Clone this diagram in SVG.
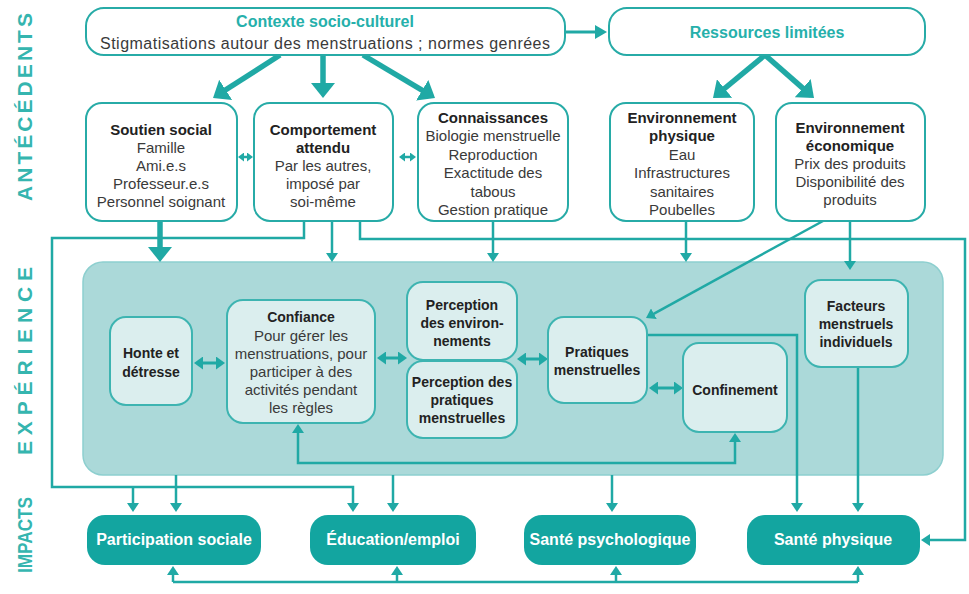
<svg xmlns="http://www.w3.org/2000/svg" width="969" height="594" viewBox="0 0 969 594">
<defs>
<style>
.box{fill:#fff;stroke:#27aba7;stroke-width:2}
.inner{fill:#dbeeee;stroke:#3db4b1;stroke-width:2}
.panel{fill:#abd9d9;stroke:#8dcfcf;stroke-width:1.5}
.imp{fill:#13a5a0}
.t{font-family:"Liberation Sans",Arial,sans-serif;font-size:15px;fill:#3a3a3a;text-anchor:middle}
.n{font-size:14px}
.b{font-weight:bold;fill:#222}
.teal{fill:#26b0ab;font-weight:bold;font-size:16px}
.w{fill:#fff;font-weight:bold;font-size:16px}
.side{font-family:"Liberation Sans",Arial,sans-serif;font-weight:bold;font-size:21px;fill:#35b5af;text-anchor:middle}
.c{fill:none;stroke:#20a9a5;stroke-width:2.5}
.k{stroke-width:5.5}
.d{stroke-width:3}
.ht{fill:#20a9a5}
</style>
<marker id="a" viewBox="0 0 9 12" refX="5" refY="6" markerWidth="9" markerHeight="12" markerUnits="userSpaceOnUse" orient="auto-start-reverse"><path class="ht" d="M0,0 L9,6 L0,12 z"/></marker>
<marker id="A" viewBox="0 0 15 24" refX="11" refY="12" markerWidth="15" markerHeight="24" markerUnits="userSpaceOnUse" orient="auto-start-reverse"><path class="ht" d="M0,0 L15,12 L0,24 z"/></marker>
<marker id="m" viewBox="0 0 12 14" refX="8" refY="7" markerWidth="12" markerHeight="14" markerUnits="userSpaceOnUse" orient="auto-start-reverse"><path class="ht" d="M0,0 L12,7 L0,14 z"/></marker>
<marker id="s" viewBox="0 0 6 9" refX="2" refY="4.5" markerWidth="6" markerHeight="9" markerUnits="userSpaceOnUse" orient="auto-start-reverse"><path class="ht" d="M0,0 L6,4.5 L0,9 z"/></marker>
<marker id="D" viewBox="0 0 9 13" refX="5" refY="6.5" markerWidth="9" markerHeight="13" markerUnits="userSpaceOnUse" orient="auto-start-reverse"><path class="ht" d="M0,0 L9,6.5 L0,13 z"/></marker>
</defs>
<rect width="969" height="594" fill="#fff"/>

<g id="side-labels">
<text class="side" transform="translate(32,107) rotate(-90)" textLength="188" lengthAdjust="spacing">ANTÉCÉDENTS</text>
<text class="side" transform="translate(32,361) rotate(-90)" textLength="188" lengthAdjust="spacing">EXPÉRIENCE</text>
<text class="side" transform="translate(32,535) rotate(-90)" textLength="76" lengthAdjust="spacingAndGlyphs">IMPACTS</text>
</g>

<g id="experience-panel">
<rect class="panel" x="83" y="262" width="860" height="213" rx="20"/>
</g>

<g id="connectors">
<path class="c k" d="M280,55 L216.4,95.8" marker-end="url(#A)"/>
<path class="c k" d="M323,55 V94" marker-end="url(#A)"/>
<path class="c k" d="M363,55 L431.6,95.9" marker-end="url(#A)"/>
<path class="c d" d="M565,32 H603" marker-end="url(#m)"/>
<path class="c k" d="M765,55 L716.1,95.5" marker-end="url(#A)"/>
<path class="c k" d="M765,55 L811,95.4" marker-end="url(#A)"/>
<path class="c" d="M242,157 H249" marker-start="url(#s)" marker-end="url(#s)"/>
<path class="c" d="M403,157 H412" marker-start="url(#s)" marker-end="url(#s)"/>
<path class="c k" d="M160,221 V258" marker-end="url(#A)"/>
<path class="c" d="M332,221 V258" marker-end="url(#a)"/>
<path class="c" d="M304,221 V238 H52 V487 H353 V508" marker-end="url(#a)"/>
<path class="c" d="M133,487 V508" marker-end="url(#a)"/>
<path class="c" d="M360,221 V239 H965 V540 H925" marker-end="url(#a)"/>
<path class="c" d="M493,221 V258" marker-end="url(#a)"/>
<path class="c" d="M686,221 V258" marker-end="url(#a)"/>
<path class="c" d="M823,221 L649.5,316.1" marker-end="url(#a)"/>
<path class="c" d="M850,221 V266" marker-end="url(#a)"/>
<path class="c d" d="M198,363 H221" marker-start="url(#D)" marker-end="url(#D)"/>
<path class="c d" d="M381,358 H403" marker-start="url(#D)" marker-end="url(#D)"/>
<path class="c d" d="M521,359 H544" marker-start="url(#D)" marker-end="url(#D)"/>
<path class="c d" d="M653,388 H679" marker-start="url(#D)" marker-end="url(#D)"/>
<path class="c" d="M298,428 V463 H735 V437" marker-start="url(#a)" marker-end="url(#a)"/>
<path class="c" d="M647,335 H797 V508" marker-end="url(#a)"/>
<path class="c" d="M858,367 V508" marker-end="url(#a)"/>
<path class="c" d="M176,475 V508" marker-end="url(#a)"/>
<path class="c" d="M393,475 V508" marker-end="url(#a)"/>
<path class="c" d="M612,475 V508" marker-end="url(#a)"/>
<path class="c" d="M173,582 H858"/>
<path class="c" d="M173,582 V570" marker-end="url(#a)"/>
<path class="c" d="M397,582 V570" marker-end="url(#a)"/>
<path class="c" d="M616,582 V570" marker-end="url(#a)"/>
<path class="c" d="M858,582 V570" marker-end="url(#a)"/>
</g>

<g id="contexte">
<rect class="box" x="86" y="8" width="479" height="47" rx="18"/>
<text class="t teal" x="325" y="27">Contexte socio-culturel</text>
<text class="t" x="325" y="49" style="font-size:16px" textLength="450" lengthAdjust="spacing">Stigmatisations autour des menstruations ; normes genrées</text>
</g>
<g id="ressources">
<rect class="box" x="609" y="8" width="316" height="47" rx="18"/>
<text class="t teal" x="767" y="38">Ressources limitées</text>
</g>

<g id="soutien">
<rect class="box" x="86" y="103" width="151" height="118" rx="16"/>
<text class="t b" x="161" y="135">Soutien social</text>
<text class="t" x="161" y="153">Famille</text>
<text class="t" x="161" y="171">Ami.e.s</text>
<text class="t" x="161" y="189">Professeur.e.s</text>
<text class="t" x="161" y="207">Personnel soignant</text>
</g>
<g id="comportement">
<rect class="box" x="254" y="103" width="139" height="118" rx="16"/>
<text class="t b" x="323" y="135">Comportement</text>
<text class="t b" x="323" y="153">attendu</text>
<text class="t" x="323" y="171">Par les autres,</text>
<text class="t" x="323" y="189">imposé par</text>
<text class="t" x="323" y="207">soi-même</text>
</g>
<g id="connaissances">
<rect class="box" x="418" y="103" width="150" height="118" rx="16"/>
<text class="t b" x="493" y="123">Connaissances</text>
<text class="t" x="493" y="141">Biologie menstruelle</text>
<text class="t" x="493" y="160">Reproduction</text>
<text class="t" x="493" y="178">Exactitude des</text>
<text class="t" x="493" y="197">tabous</text>
<text class="t" x="493" y="215">Gestion pratique</text>
</g>
<g id="env-physique">
<rect class="box" x="610" y="103" width="144" height="118" rx="16"/>
<text class="t b" x="682" y="123">Environnement</text>
<text class="t b" x="682" y="141">physique</text>
<text class="t" x="682" y="160">Eau</text>
<text class="t" x="682" y="178">Infrastructures</text>
<text class="t" x="682" y="197">sanitaires</text>
<text class="t" x="682" y="215">Poubelles</text>
</g>
<g id="env-economique">
<rect class="box" x="776" y="103" width="149" height="118" rx="16"/>
<text class="t b" x="850" y="133">Environnement</text>
<text class="t b" x="850" y="151">économique</text>
<text class="t" x="850" y="169">Prix des produits</text>
<text class="t" x="850" y="187">Disponibilité des</text>
<text class="t" x="850" y="205">produits</text>
</g>

<g id="honte">
<rect class="inner" x="110" y="317" width="82" height="88" rx="16"/>
<text class="t n b" x="151" y="358">Honte et</text>
<text class="t n b" x="151" y="377">détresse</text>
</g>
<g id="confiance">
<rect class="inner" x="227" y="300" width="148" height="123" rx="16"/>
<text class="t n b" x="301" y="322">Confiance</text>
<text class="t" x="301" y="341">Pour gérer les</text>
<text class="t" x="301" y="359">menstruations, pour</text>
<text class="t" x="301" y="377">participer à des</text>
<text class="t" x="301" y="395">activités pendant</text>
<text class="t" x="301" y="413">les règles</text>
</g>
<g id="perception-env">
<rect class="inner" x="407" y="282" width="110" height="78" rx="16"/>
<text class="t n b" x="462" y="310">Perception</text>
<text class="t n b" x="462" y="328">des environ-</text>
<text class="t n b" x="462" y="346">nements</text>
</g>
<g id="perception-pratiques">
<rect class="inner" x="407" y="361" width="110" height="77" rx="16"/>
<text class="t n b" x="462" y="387">Perception des</text>
<text class="t n b" x="462" y="405">pratiques</text>
<text class="t n b" x="462" y="423">menstruelles</text>
</g>
<g id="pratiques">
<rect class="inner" x="548" y="317" width="99" height="86" rx="16"/>
<text class="t n b" x="597" y="357">Pratiques</text>
<text class="t n b" x="597" y="375">menstruelles</text>
</g>
<g id="confinement">
<rect class="inner" x="683" y="343" width="104" height="89" rx="16"/>
<text class="t n b" x="735" y="395">Confinement</text>
</g>
<g id="facteurs">
<rect class="inner" x="805" y="280" width="103" height="87" rx="16"/>
<text class="t n b" x="856" y="311">Facteurs</text>
<text class="t n b" x="856" y="329">menstruels</text>
<text class="t n b" x="856" y="347">individuels</text>
</g>

<g id="participation">
<rect class="imp" x="87" y="515" width="174" height="50" rx="18"/>
<text class="t w" x="174" y="545">Participation sociale</text>
</g>
<g id="education">
<rect class="imp" x="310" y="515" width="166" height="50" rx="18"/>
<text class="t w" x="393" y="545">Éducation/emploi</text>
</g>
<g id="sante-psy">
<rect class="imp" x="524" y="515" width="172" height="50" rx="18"/>
<text class="t w" x="610" y="545">Santé psychologique</text>
</g>
<g id="sante-physique">
<rect class="imp" x="747" y="515" width="173" height="50" rx="18"/>
<text class="t w" x="833" y="545">Santé physique</text>
</g>
</svg>
